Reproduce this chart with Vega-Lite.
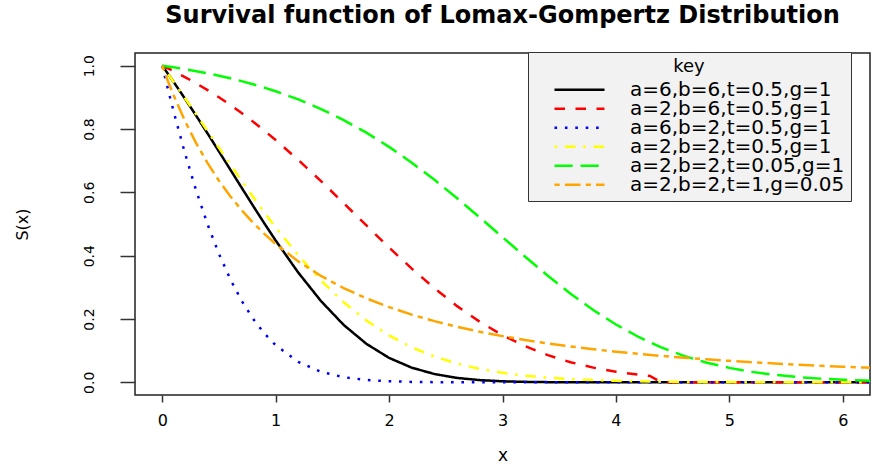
{
  "$schema": "https://vega.github.io/schema/vega-lite/v6.json",
  "width": 735,
  "height": 342,
  "autosize": {"type": "none"},
  "padding": {"left": 135, "top": 53, "right": 23, "bottom": 70},
  "background": "white",
  "title": {
    "text": "Survival function of Lomax-Gompertz Distribution",
    "font": "DejaVu Sans",
    "fontSize": 24,
    "fontWeight": "bold",
    "color": "black",
    "anchor": "middle",
    "frame": "group",
    "baseline": "alphabetic",
    "offset": 5
  },
  "config": {
    "view": {"stroke": "#222222", "strokeWidth": 1.5},
    "axis": {
      "labelFont": "DejaVu Sans",
      "titleFont": "DejaVu Sans",
      "labelColor": "black",
      "titleColor": "black",
      "tickColor": "#333333",
      "tickWidth": 1.5,
      "domain": false,
      "grid": false,
      "titleFontWeight": "normal"
    }
  },
  "data": {
    "values": [
      {"k": "a=6,b=6,t=0.5,g=1", "x": 0, "y": 1},
      {"k": "a=6,b=6,t=0.5,g=1", "x": 0.1, "y": 0.949},
      {"k": "a=6,b=6,t=0.5,g=1", "x": 0.2, "y": 0.8961},
      {"k": "a=6,b=6,t=0.5,g=1", "x": 0.3, "y": 0.8416},
      {"k": "a=6,b=6,t=0.5,g=1", "x": 0.4, "y": 0.7858},
      {"k": "a=6,b=6,t=0.5,g=1", "x": 0.5, "y": 0.7291},
      {"k": "a=6,b=6,t=0.5,g=1", "x": 0.6, "y": 0.6719},
      {"k": "a=6,b=6,t=0.5,g=1", "x": 0.7, "y": 0.6147},
      {"k": "a=6,b=6,t=0.5,g=1", "x": 0.8, "y": 0.558},
      {"k": "a=6,b=6,t=0.5,g=1", "x": 0.9, "y": 0.5022},
      {"k": "a=6,b=6,t=0.5,g=1", "x": 1.0, "y": 0.448},
      {"k": "a=6,b=6,t=0.5,g=1", "x": 1.2, "y": 0.3463},
      {"k": "a=6,b=6,t=0.5,g=1", "x": 1.4, "y": 0.2565},
      {"k": "a=6,b=6,t=0.5,g=1", "x": 1.6, "y": 0.1812},
      {"k": "a=6,b=6,t=0.5,g=1", "x": 1.8, "y": 0.1216},
      {"k": "a=6,b=6,t=0.5,g=1", "x": 2.0, "y": 0.0772},
      {"k": "a=6,b=6,t=0.5,g=1", "x": 2.2, "y": 0.0463},
      {"k": "a=6,b=6,t=0.5,g=1", "x": 2.4, "y": 0.0262},
      {"k": "a=6,b=6,t=0.5,g=1", "x": 2.6, "y": 0.0139},
      {"k": "a=6,b=6,t=0.5,g=1", "x": 2.8, "y": 0.007},
      {"k": "a=6,b=6,t=0.5,g=1", "x": 3.0, "y": 0.0033},
      {"k": "a=6,b=6,t=0.5,g=1", "x": 3.2, "y": 0.0015},
      {"k": "a=6,b=6,t=0.5,g=1", "x": 3.4, "y": 0.0006},
      {"k": "a=6,b=6,t=0.5,g=1", "x": 3.6, "y": 0.0003},
      {"k": "a=6,b=6,t=0.5,g=1", "x": 3.8, "y": 0.0001},
      {"k": "a=6,b=6,t=0.5,g=1", "x": 4.0, "y": 0},
      {"k": "a=6,b=6,t=0.5,g=1", "x": 6.4, "y": 0},

      {"k": "a=2,b=6,t=0.5,g=1", "x": 0, "y": 1},
      {"k": "a=2,b=6,t=0.5,g=1", "x": 0.1, "y": 0.9827},
      {"k": "a=2,b=6,t=0.5,g=1", "x": 0.2, "y": 0.9641},
      {"k": "a=2,b=6,t=0.5,g=1", "x": 0.3, "y": 0.9441},
      {"k": "a=2,b=6,t=0.5,g=1", "x": 0.4, "y": 0.9228},
      {"k": "a=2,b=6,t=0.5,g=1", "x": 0.5, "y": 0.9001},
      {"k": "a=2,b=6,t=0.5,g=1", "x": 0.6, "y": 0.8759},
      {"k": "a=2,b=6,t=0.5,g=1", "x": 0.7, "y": 0.8503},
      {"k": "a=2,b=6,t=0.5,g=1", "x": 0.8, "y": 0.8233},
      {"k": "a=2,b=6,t=0.5,g=1", "x": 0.9, "y": 0.7949},
      {"k": "a=2,b=6,t=0.5,g=1", "x": 1.0, "y": 0.7652},
      {"k": "a=2,b=6,t=0.5,g=1", "x": 1.2, "y": 0.7022},
      {"k": "a=2,b=6,t=0.5,g=1", "x": 1.4, "y": 0.6353},
      {"k": "a=2,b=6,t=0.5,g=1", "x": 1.6, "y": 0.5658},
      {"k": "a=2,b=6,t=0.5,g=1", "x": 1.8, "y": 0.4954},
      {"k": "a=2,b=6,t=0.5,g=1", "x": 2.0, "y": 0.4258},
      {"k": "a=2,b=6,t=0.5,g=1", "x": 2.2, "y": 0.3591},
      {"k": "a=2,b=6,t=0.5,g=1", "x": 2.4, "y": 0.2969},
      {"k": "a=2,b=6,t=0.5,g=1", "x": 2.6, "y": 0.2406},
      {"k": "a=2,b=6,t=0.5,g=1", "x": 2.8, "y": 0.1912},
      {"k": "a=2,b=6,t=0.5,g=1", "x": 3.0, "y": 0.149},
      {"k": "a=2,b=6,t=0.5,g=1", "x": 3.2, "y": 0.1141},
      {"k": "a=2,b=6,t=0.5,g=1", "x": 3.4, "y": 0.0858},
      {"k": "a=2,b=6,t=0.5,g=1", "x": 3.6, "y": 0.0636},
      {"k": "a=2,b=6,t=0.5,g=1", "x": 3.8, "y": 0.0464},
      {"k": "a=2,b=6,t=0.5,g=1", "x": 4.0, "y": 0.0335},
      {"k": "a=2,b=6,t=0.5,g=1", "x": 4.2, "y": 0.0239},
      {"k": "a=2,b=6,t=0.5,g=1", "x": 4.3, "y": 0.0201},
      {"k": "a=2,b=6,t=0.5,g=1", "x": 4.4, "y": 0},
      {"k": "a=2,b=6,t=0.5,g=1", "x": 6.4, "y": 0},

      {"k": "a=6,b=2,t=0.5,g=1", "x": 0, "y": 1},
      {"k": "a=6,b=2,t=0.5,g=1", "x": 0.05, "y": 0.9264},
      {"k": "a=6,b=2,t=0.5,g=1", "x": 0.1, "y": 0.8558},
      {"k": "a=6,b=2,t=0.5,g=1", "x": 0.2, "y": 0.7238},
      {"k": "a=6,b=2,t=0.5,g=1", "x": 0.3, "y": 0.6047},
      {"k": "a=6,b=2,t=0.5,g=1", "x": 0.4, "y": 0.4987},
      {"k": "a=6,b=2,t=0.5,g=1", "x": 0.5, "y": 0.4059},
      {"k": "a=6,b=2,t=0.5,g=1", "x": 0.6, "y": 0.3258},
      {"k": "a=6,b=2,t=0.5,g=1", "x": 0.7, "y": 0.2578},
      {"k": "a=6,b=2,t=0.5,g=1", "x": 0.8, "y": 0.2012},
      {"k": "a=6,b=2,t=0.5,g=1", "x": 0.9, "y": 0.1547},
      {"k": "a=6,b=2,t=0.5,g=1", "x": 1.0, "y": 0.1172},
      {"k": "a=6,b=2,t=0.5,g=1", "x": 1.2, "y": 0.0643},
      {"k": "a=6,b=2,t=0.5,g=1", "x": 1.4, "y": 0.0332},
      {"k": "a=6,b=2,t=0.5,g=1", "x": 1.6, "y": 0.0162},
      {"k": "a=6,b=2,t=0.5,g=1", "x": 1.8, "y": 0.0075},
      {"k": "a=6,b=2,t=0.5,g=1", "x": 2.0, "y": 0.0033},
      {"k": "a=6,b=2,t=0.5,g=1", "x": 2.2, "y": 0.0014},
      {"k": "a=6,b=2,t=0.5,g=1", "x": 2.4, "y": 0.0005},
      {"k": "a=6,b=2,t=0.5,g=1", "x": 2.6, "y": 0.0002},
      {"k": "a=6,b=2,t=0.5,g=1", "x": 2.8, "y": 0},
      {"k": "a=6,b=2,t=0.5,g=1", "x": 6.4, "y": 0},

      {"k": "a=2,b=2,t=0.5,g=1", "x": 0, "y": 1},
      {"k": "a=2,b=2,t=0.5,g=1", "x": 0.1, "y": 0.9494},
      {"k": "a=2,b=2,t=0.5,g=1", "x": 0.2, "y": 0.8979},
      {"k": "a=2,b=2,t=0.5,g=1", "x": 0.3, "y": 0.8456},
      {"k": "a=2,b=2,t=0.5,g=1", "x": 0.4, "y": 0.793},
      {"k": "a=2,b=2,t=0.5,g=1", "x": 0.5, "y": 0.7404},
      {"k": "a=2,b=2,t=0.5,g=1", "x": 0.6, "y": 0.6881},
      {"k": "a=2,b=2,t=0.5,g=1", "x": 0.7, "y": 0.6365},
      {"k": "a=2,b=2,t=0.5,g=1", "x": 0.8, "y": 0.5859},
      {"k": "a=2,b=2,t=0.5,g=1", "x": 0.9, "y": 0.5368},
      {"k": "a=2,b=2,t=0.5,g=1", "x": 1.0, "y": 0.4893},
      {"k": "a=2,b=2,t=0.5,g=1", "x": 1.2, "y": 0.4006},
      {"k": "a=2,b=2,t=0.5,g=1", "x": 1.4, "y": 0.3214},
      {"k": "a=2,b=2,t=0.5,g=1", "x": 1.6, "y": 0.253},
      {"k": "a=2,b=2,t=0.5,g=1", "x": 1.8, "y": 0.1954},
      {"k": "a=2,b=2,t=0.5,g=1", "x": 2.0, "y": 0.1482},
      {"k": "a=2,b=2,t=0.5,g=1", "x": 2.2, "y": 0.1107},
      {"k": "a=2,b=2,t=0.5,g=1", "x": 2.4, "y": 0.0814},
      {"k": "a=2,b=2,t=0.5,g=1", "x": 2.6, "y": 0.059},
      {"k": "a=2,b=2,t=0.5,g=1", "x": 2.8, "y": 0.0423},
      {"k": "a=2,b=2,t=0.5,g=1", "x": 3.0, "y": 0.03},
      {"k": "a=2,b=2,t=0.5,g=1", "x": 3.2, "y": 0.0211},
      {"k": "a=2,b=2,t=0.5,g=1", "x": 3.4, "y": 0.0147},
      {"k": "a=2,b=2,t=0.5,g=1", "x": 3.6, "y": 0.0102},
      {"k": "a=2,b=2,t=0.5,g=1", "x": 3.8, "y": 0.007},
      {"k": "a=2,b=2,t=0.5,g=1", "x": 4.0, "y": 0.0048},
      {"k": "a=2,b=2,t=0.5,g=1", "x": 4.2, "y": 0.0033},
      {"k": "a=2,b=2,t=0.5,g=1", "x": 4.4, "y": 0.0022},
      {"k": "a=2,b=2,t=0.5,g=1", "x": 4.6, "y": 0.0015},
      {"k": "a=2,b=2,t=0.5,g=1", "x": 4.8, "y": 0.001},
      {"k": "a=2,b=2,t=0.5,g=1", "x": 5.0, "y": 0.0007},
      {"k": "a=2,b=2,t=0.5,g=1", "x": 5.4, "y": 0.0003},
      {"k": "a=2,b=2,t=0.5,g=1", "x": 6.0, "y": 0.0001},
      {"k": "a=2,b=2,t=0.5,g=1", "x": 6.4, "y": 0},

      {"k": "a=2,b=2,t=0.05,g=1", "x": 0, "y": 1},
      {"k": "a=2,b=2,t=0.05,g=1", "x": 0.1, "y": 0.9948},
      {"k": "a=2,b=2,t=0.05,g=1", "x": 0.2, "y": 0.989},
      {"k": "a=2,b=2,t=0.05,g=1", "x": 0.3, "y": 0.9827},
      {"k": "a=2,b=2,t=0.05,g=1", "x": 0.4, "y": 0.9759},
      {"k": "a=2,b=2,t=0.05,g=1", "x": 0.5, "y": 0.9683},
      {"k": "a=2,b=2,t=0.05,g=1", "x": 0.6, "y": 0.9601},
      {"k": "a=2,b=2,t=0.05,g=1", "x": 0.7, "y": 0.9512},
      {"k": "a=2,b=2,t=0.05,g=1", "x": 0.8, "y": 0.9414},
      {"k": "a=2,b=2,t=0.05,g=1", "x": 0.9, "y": 0.9308},
      {"k": "a=2,b=2,t=0.05,g=1", "x": 1.0, "y": 0.9193},
      {"k": "a=2,b=2,t=0.05,g=1", "x": 1.2, "y": 0.8934},
      {"k": "a=2,b=2,t=0.05,g=1", "x": 1.4, "y": 0.8631},
      {"k": "a=2,b=2,t=0.05,g=1", "x": 1.6, "y": 0.8282},
      {"k": "a=2,b=2,t=0.05,g=1", "x": 1.8, "y": 0.7884},
      {"k": "a=2,b=2,t=0.05,g=1", "x": 2.0, "y": 0.7435},
      {"k": "a=2,b=2,t=0.05,g=1", "x": 2.2, "y": 0.6937},
      {"k": "a=2,b=2,t=0.05,g=1", "x": 2.4, "y": 0.6394},
      {"k": "a=2,b=2,t=0.05,g=1", "x": 2.6, "y": 0.5813},
      {"k": "a=2,b=2,t=0.05,g=1", "x": 2.8, "y": 0.5205},
      {"k": "a=2,b=2,t=0.05,g=1", "x": 3.0, "y": 0.4583},
      {"k": "a=2,b=2,t=0.05,g=1", "x": 3.2, "y": 0.3964},
      {"k": "a=2,b=2,t=0.05,g=1", "x": 3.4, "y": 0.3364},
      {"k": "a=2,b=2,t=0.05,g=1", "x": 3.6, "y": 0.28},
      {"k": "a=2,b=2,t=0.05,g=1", "x": 3.8, "y": 0.2284},
      {"k": "a=2,b=2,t=0.05,g=1", "x": 4.0, "y": 0.1826},
      {"k": "a=2,b=2,t=0.05,g=1", "x": 4.2, "y": 0.1432},
      {"k": "a=2,b=2,t=0.05,g=1", "x": 4.4, "y": 0.1103},
      {"k": "a=2,b=2,t=0.05,g=1", "x": 4.6, "y": 0.0834},
      {"k": "a=2,b=2,t=0.05,g=1", "x": 4.8, "y": 0.0621},
      {"k": "a=2,b=2,t=0.05,g=1", "x": 5.0, "y": 0.0456},
      {"k": "a=2,b=2,t=0.05,g=1", "x": 5.2, "y": 0.033},
      {"k": "a=2,b=2,t=0.05,g=1", "x": 5.4, "y": 0.0236},
      {"k": "a=2,b=2,t=0.05,g=1", "x": 5.6, "y": 0.0167},
      {"k": "a=2,b=2,t=0.05,g=1", "x": 5.8, "y": 0.0117},
      {"k": "a=2,b=2,t=0.05,g=1", "x": 6.0, "y": 0.0082},
      {"k": "a=2,b=2,t=0.05,g=1", "x": 6.2, "y": 0.0057},
      {"k": "a=2,b=2,t=0.05,g=1", "x": 6.4, "y": 0.0039},

      {"k": "a=2,b=2,t=1,g=0.05", "x": 0, "y": 1},
      {"k": "a=2,b=2,t=1,g=0.05", "x": 0.05, "y": 0.9518},
      {"k": "a=2,b=2,t=1,g=0.05", "x": 0.1, "y": 0.9068},
      {"k": "a=2,b=2,t=1,g=0.05", "x": 0.2, "y": 0.8257},
      {"k": "a=2,b=2,t=1,g=0.05", "x": 0.3, "y": 0.7547},
      {"k": "a=2,b=2,t=1,g=0.05", "x": 0.4, "y": 0.6921},
      {"k": "a=2,b=2,t=1,g=0.05", "x": 0.5, "y": 0.6368},
      {"k": "a=2,b=2,t=1,g=0.05", "x": 0.6, "y": 0.5876},
      {"k": "a=2,b=2,t=1,g=0.05", "x": 0.7, "y": 0.5437},
      {"k": "a=2,b=2,t=1,g=0.05", "x": 0.8, "y": 0.5043},
      {"k": "a=2,b=2,t=1,g=0.05", "x": 0.9, "y": 0.469},
      {"k": "a=2,b=2,t=1,g=0.05", "x": 1.0, "y": 0.437},
      {"k": "a=2,b=2,t=1,g=0.05", "x": 1.2, "y": 0.3818},
      {"k": "a=2,b=2,t=1,g=0.05", "x": 1.4, "y": 0.336},
      {"k": "a=2,b=2,t=1,g=0.05", "x": 1.6, "y": 0.2977},
      {"k": "a=2,b=2,t=1,g=0.05", "x": 1.8, "y": 0.2652},
      {"k": "a=2,b=2,t=1,g=0.05", "x": 2.0, "y": 0.2376},
      {"k": "a=2,b=2,t=1,g=0.05", "x": 2.2, "y": 0.2138},
      {"k": "a=2,b=2,t=1,g=0.05", "x": 2.4, "y": 0.1932},
      {"k": "a=2,b=2,t=1,g=0.05", "x": 2.6, "y": 0.1753},
      {"k": "a=2,b=2,t=1,g=0.05", "x": 2.8, "y": 0.1597},
      {"k": "a=2,b=2,t=1,g=0.05", "x": 3.0, "y": 0.1459},
      {"k": "a=2,b=2,t=1,g=0.05", "x": 3.2, "y": 0.1337},
      {"k": "a=2,b=2,t=1,g=0.05", "x": 3.4, "y": 0.1229},
      {"k": "a=2,b=2,t=1,g=0.05", "x": 3.6, "y": 0.1132},
      {"k": "a=2,b=2,t=1,g=0.05", "x": 3.8, "y": 0.1046},
      {"k": "a=2,b=2,t=1,g=0.05", "x": 4.0, "y": 0.0968},
      {"k": "a=2,b=2,t=1,g=0.05", "x": 4.2, "y": 0.0898},
      {"k": "a=2,b=2,t=1,g=0.05", "x": 4.4, "y": 0.0835},
      {"k": "a=2,b=2,t=1,g=0.05", "x": 4.6, "y": 0.0778},
      {"k": "a=2,b=2,t=1,g=0.05", "x": 4.8, "y": 0.0726},
      {"k": "a=2,b=2,t=1,g=0.05", "x": 5.0, "y": 0.0678},
      {"k": "a=2,b=2,t=1,g=0.05", "x": 5.2, "y": 0.0635},
      {"k": "a=2,b=2,t=1,g=0.05", "x": 5.4, "y": 0.0595},
      {"k": "a=2,b=2,t=1,g=0.05", "x": 5.6, "y": 0.0559},
      {"k": "a=2,b=2,t=1,g=0.05", "x": 5.8, "y": 0.0525},
      {"k": "a=2,b=2,t=1,g=0.05", "x": 6.0, "y": 0.0494},
      {"k": "a=2,b=2,t=1,g=0.05", "x": 6.2, "y": 0.0466},
      {"k": "a=2,b=2,t=1,g=0.05", "x": 6.4, "y": 0.0439}
    ]
  },
  "mark": {"type": "line", "clip": true, "strokeWidth": 2.5, "strokeCap": "butt"},
  "encoding": {
    "x": {
      "field": "x",
      "type": "quantitative",
      "scale": {"domain": [-0.24, 6.24], "nice": false, "zero": false},
      "axis": {
        "title": "x",
        "values": [0, 1, 2, 3, 4, 5, 6],
        "format": "d",
        "labelFontSize": 16,
        "tickSize": 7,
        "labelPadding": 10,
        "titleFontSize": 17,
        "titlePadding": 19
      }
    },
    "y": {
      "field": "y",
      "type": "quantitative",
      "scale": {"domain": [-0.04, 1.04], "nice": false, "zero": false},
      "axis": {
        "title": "S(x)",
        "values": [0, 0.2, 0.4, 0.6, 0.8, 1.0],
        "format": ".1f",
        "labelAngle": -90,
        "labelFontSize": 14,
        "tickSize": 15,
        "labelPadding": 24,
        "titleFontSize": 16,
        "titlePadding": 52
      }
    },
    "color": {
      "field": "k",
      "type": "nominal",
      "sort": null,
      "scale": {
        "domain": ["a=6,b=6,t=0.5,g=1", "a=2,b=6,t=0.5,g=1", "a=6,b=2,t=0.5,g=1", "a=2,b=2,t=0.5,g=1", "a=2,b=2,t=0.05,g=1", "a=2,b=2,t=1,g=0.05"],
        "range": ["#000000", "#FF0000", "#0000FF", "#FFFF00", "#00FF00", "#FFA500"]
      },
      "legend": {
        "title": "key",
        "orient": "none",
        "legendX": 393,
        "legendY": -1,
        "padding": 6,
        "fillColor": "#F2F2F2",
        "strokeColor": "#333333",
        "titleFont": "DejaVu Sans",
        "titleFontSize": 18,
        "titleFontWeight": "normal",
        "titleColor": "black",
        "titleAnchor": "middle",
        "titlePadding": 5,
        "labelFont": "DejaVu Sans",
        "labelFontSize": 20,
        "labelLimit": 0,
        "labelColor": "black",
        "symbolType": "stroke",
        "symbolSize": 2500,
        "symbolStrokeWidth": 2.5,
        "symbolOffset": 19,
        "labelOffset": 24,
        "clipHeight": 17.4,
        "rowPadding": -8
      }
    },
    "strokeDash": {
      "field": "k",
      "type": "nominal",
      "sort": null,
      "scale": {
        "domain": ["a=6,b=6,t=0.5,g=1", "a=2,b=6,t=0.5,g=1", "a=6,b=2,t=0.5,g=1", "a=2,b=2,t=0.5,g=1", "a=2,b=2,t=0.05,g=1", "a=2,b=2,t=1,g=0.05"],
        "range": [[1, 0], [10.5, 10.5], [2.6, 7.8], [2.6, 7.8, 10.5, 7.8], [18.2, 7.8], [5.2, 5.2, 15.6, 5.2]]
      }
    }
  }
}
